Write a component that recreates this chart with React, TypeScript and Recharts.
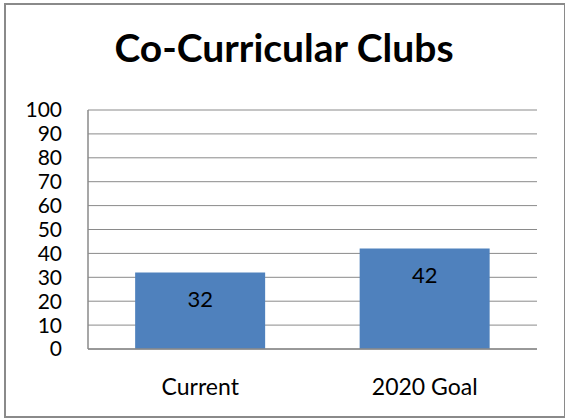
import { BarChart, Bar, XAxis, YAxis, CartesianGrid, LabelList } from 'recharts'

const categories = ['Current', '2020 Goal']
const clubs = [32, 42]
const yTicks = [0, 10, 20, 30, 40, 50, 60, 70, 80, 90, 100]

const data = categories.map((name, i) => ({ name, clubs: clubs[i] }))

const font = 'Lato, "Open Sans", sans-serif'

export default function App() {
  return (
    <div style={{ position: 'absolute', left: 0, top: 0, width: 565, height: 418, background: '#fff', fontFamily: font }}>
      {/* chart frame */}
      <div style={{ position: 'absolute', left: 4, top: 3, width: 562, height: 415, border: '2px solid #8a8a8a', boxSizing: 'border-box' }} />
      <div style={{ position: 'absolute', left: 0, top: 24, width: 568, textAlign: 'center', fontSize: 39, fontWeight: 700, lineHeight: '46px', color: '#000' }}>
        Co-Curricular Clubs
      </div>
      <BarChart
        width={565}
        height={418}
        data={data}
        margin={{ top: 110, right: 28, bottom: 39, left: 0 }}
        barCategoryGap="21%"
        style={{ position: 'absolute', left: 0, top: 0 }}
      >
        <CartesianGrid vertical={false} stroke="#8a8a8a" strokeWidth={1} />
        <XAxis
          dataKey="name"
          height={30}
          tickLine={false}
          axisLine={{ stroke: '#8a8a8a', strokeWidth: 1.5 }}
          tickMargin={24}
          tick={{ fill: '#000', fontSize: 23, fontFamily: font }}
        />
        <YAxis
          domain={[0, 100]}
          ticks={yTicks}
          interval={0}
          width={88}
          tickLine={false}
          tickSize={0}
          tickMargin={26}
          axisLine={{ stroke: '#8a8a8a', strokeWidth: 1.5 }}
          tick={{ fill: '#000', fontSize: 21, fontFamily: font }}
        />
        <Bar dataKey="clubs" fill="#4f81bd" isAnimationActive={false}>
          <LabelList dataKey="clubs" position="insideTop" offset={19} fill="#000" fontSize={22} fontFamily={font} />
        </Bar>
      </BarChart>
    </div>
  )
}
